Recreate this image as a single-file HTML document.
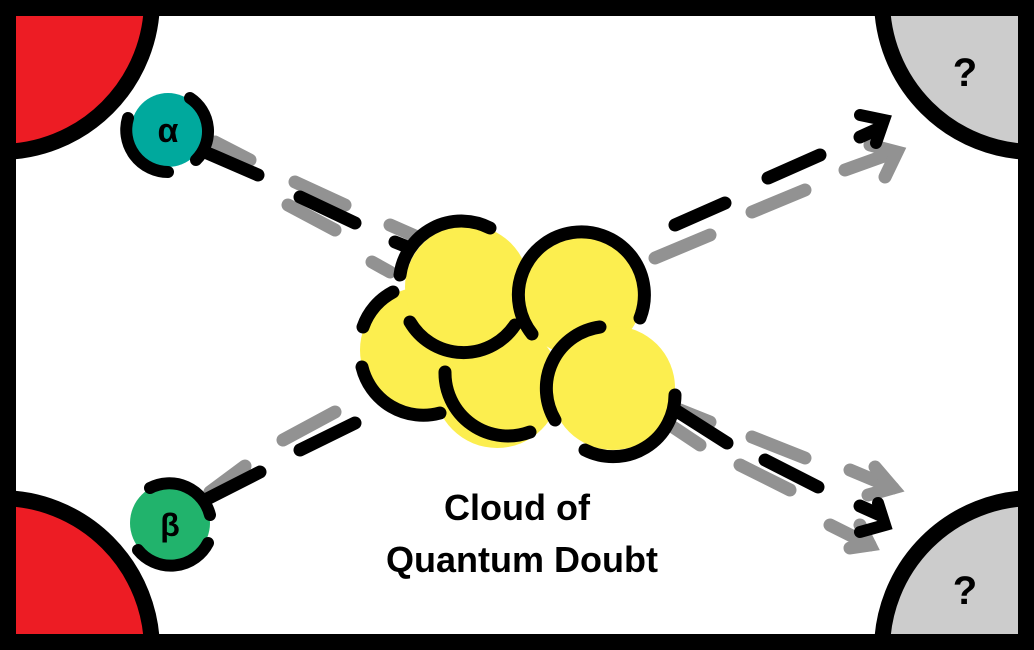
<!DOCTYPE html>
<html><head><meta charset="utf-8"><style>
html,body{margin:0;padding:0;background:#fff;overflow:hidden;width:1034px;height:650px;}
svg{display:block}
</style></head><body>
<svg width="1034" height="650" viewBox="0 0 1034 650" xmlns="http://www.w3.org/2000/svg">
<rect x="0" y="0" width="1034" height="650" fill="#fff"/>
<path d="M0,0 L152,0 A152,152 0 0 1 0,152 Z" fill="#ed1c24"/>
<path d="M152,0 A152,152 0 0 1 0,152" fill="none" stroke="#000" stroke-width="16"/>
<path d="M0,650 L152,650 A152,152 0 0 0 0,498 Z" fill="#ed1c24"/>
<path d="M152,650 A152,152 0 0 0 0,498" fill="none" stroke="#000" stroke-width="16"/>
<path d="M1034,0 L882,0 A152,152 0 0 0 1034,152 Z" fill="#cccccc"/>
<path d="M882,0 A152,152 0 0 0 1034,152" fill="none" stroke="#000" stroke-width="16"/>
<path d="M1034,650 L882,650 A152,152 0 0 1 1034,498 Z" fill="#cccccc"/>
<path d="M882,650 A152,152 0 0 1 1034,498" fill="none" stroke="#000" stroke-width="16"/>
<text x="965" y="86" font-family="Liberation Sans, sans-serif" font-weight="bold" font-size="40" text-anchor="middle">?</text>
<text x="965" y="604" font-family="Liberation Sans, sans-serif" font-weight="bold" font-size="40" text-anchor="middle">?</text>
<rect x="8" y="8" width="1018" height="634" fill="none" stroke="#000" stroke-width="16"/>

<g stroke="#929292" stroke-width="13" stroke-linecap="round" fill="none">
<line x1="215" y1="142" x2="250" y2="160"/>
<line x1="295" y1="182" x2="345" y2="205"/>
<line x1="288" y1="205" x2="335" y2="230"/>
<line x1="390" y1="225" x2="415" y2="236"/>
<line x1="372" y1="262" x2="390" y2="272"/>
<line x1="210" y1="492" x2="245" y2="466"/>
<line x1="283" y1="440" x2="335" y2="412"/>
<line x1="655" y1="258" x2="710" y2="235"/>
<line x1="752" y1="212" x2="805" y2="190"/>
<line x1="845" y1="170" x2="895" y2="152"/>
<polyline points="870,145 897,152 885,177"/>
<line x1="680" y1="410" x2="710" y2="422"/>
<line x1="670" y1="425" x2="700" y2="445"/>
<line x1="752" y1="437" x2="805" y2="458"/>
<line x1="740" y1="465" x2="790" y2="490"/>
<line x1="850" y1="470" x2="893" y2="488"/>
<polyline points="875,467 893,488 868,495"/>
<line x1="830" y1="525" x2="870" y2="545"/>
<polyline points="850,548 870,545 860,525"/>
</g>

<g stroke="#000" stroke-width="13" stroke-linecap="round" fill="none">
<line x1="205" y1="152" x2="258" y2="175"/>
<line x1="300" y1="197" x2="355" y2="223"/>
<line x1="395" y1="242" x2="405" y2="246"/>
<line x1="205" y1="500" x2="260" y2="472"/>
<line x1="300" y1="450" x2="355" y2="423"/>
<line x1="675" y1="225" x2="725" y2="203"/>
<line x1="768" y1="178" x2="820" y2="155"/>
<line x1="860" y1="137" x2="880" y2="128"/>
<polyline points="860,115 884,120 876,143" stroke-width="12"/>
<line x1="672" y1="408" x2="727" y2="443"/>
<line x1="765" y1="460" x2="818" y2="487"/>
<line x1="860" y1="506" x2="880" y2="515"/>
<polyline points="860,532 885,525 878,503" stroke-width="12"/>
</g>

<g>
<g fill="#fcee4f">
<circle cx="423" cy="350" r="63"/>
<circle cx="497" cy="385" r="63"/>
<circle cx="467" cy="287" r="62"/>
<circle cx="580" cy="293" r="63"/>
<circle cx="613" cy="388" r="62"/>
</g>
<g stroke="#000" stroke-width="13" stroke-linecap="round" fill="none">
<path d="M400,275 A62,62 0 0 1 490,228"/>
<path d="M363,327 A63,63 0 0 1 393,292"/>
<path d="M410,322 A62,62 0 0 0 515,325"/>
<path d="M362,367 A63,63 0 0 0 440,413"/>
<path d="M445,372 A63,63 0 0 0 530,432"/>
<path d="M532,334 A63,63 0 1 1 640,318"/>
<path d="M600,327 A62,62 0 0 0 555,420"/>
<path d="M675,395 A62,62 0 0 1 585,450"/>
</g>
</g>

<g>
<circle cx="168" cy="130" r="37" fill="#00a99d"/>
<g stroke="#000" stroke-width="12" stroke-linecap="round" fill="none">
<path d="M190,98 A40,40 0 0 1 196,160"/>
<path d="M168,172 A42,42 0 0 1 128,118"/>
</g>
<text x="168" y="142" font-family="Liberation Sans, sans-serif" font-weight="bold" font-size="34" text-anchor="middle">α</text>
</g>
<g>
<circle cx="170" cy="523" r="40" fill="#21b36c"/>
<g stroke="#000" stroke-width="12" stroke-linecap="round" fill="none">
<path d="M150,488 A42,42 0 0 1 210,515"/>
<path d="M208,543 A42,42 0 0 1 138,550"/>
</g>
<text x="170" y="536" font-family="Liberation Sans, sans-serif" font-weight="bold" font-size="32" text-anchor="middle">β</text>
</g>

<text font-family="Liberation Sans, sans-serif" font-weight="bold" font-size="36" text-anchor="middle" fill="#000">
<tspan x="522" y="520">Cloud of</tspan>
<tspan x="522" y="572">Quantum Doubt</tspan>
</text>
</svg>
</body></html>
